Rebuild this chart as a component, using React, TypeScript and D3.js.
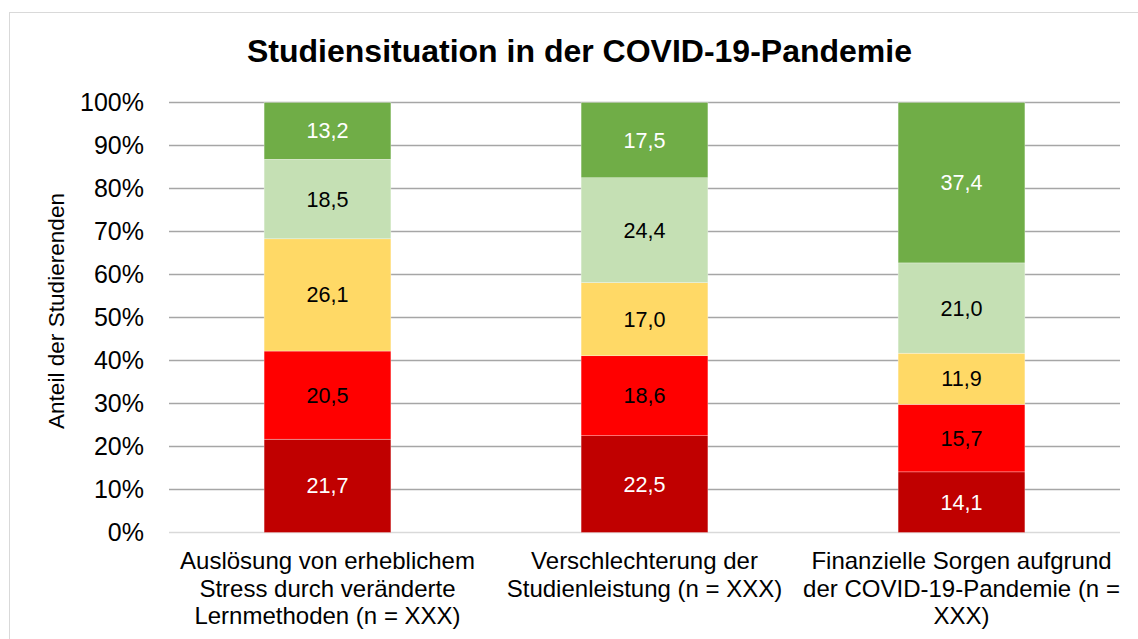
import { scaleBand, scaleLinear, stack } from 'd3'

const categories = ['stress', 'leistung', 'finanzen']

const categoryLines = [
	['Auslösung von erheblichem', 'Stress durch veränderte', 'Lernmethoden (n = XXX)'],
	['Verschlechterung der', 'Studienleistung (n = XXX)'],
	['Finanzielle Sorgen aufgrund', 'der COVID-19-Pandemie (n =', 'XXX)'],
]

const seriesKeys = ['level1', 'level2', 'level3', 'level4', 'level5']
const seriesColors = ['#C00000', '#FF0000', '#FFD966', '#C5E0B4', '#70AD47']
const labelColors = ['#FFFFFF', '#000000', '#000000', '#000000', '#FFFFFF']

const level1 = [21.7, 22.5, 14.1]
const level2 = [20.5, 18.6, 15.7]
const level3 = [26.1, 17.0, 11.9]
const level4 = [18.5, 24.4, 21.0]
const level5 = [13.2, 17.5, 37.4]

const yTicks = [0, 10, 20, 30, 40, 50, 60, 70, 80, 90, 100]

const title = 'Studiensituation in der COVID-19-Pandemie'
const yAxisTitle = 'Anteil der Studierenden'

const font = '"Liberation Sans", Arial, sans-serif'

export default function App() {
	const width = 1138
	const height = 639
	const plot = { left: 169, right: 1120, top: 102.5, bottom: 532.5 }

	const rows = categories.map((category, i) => ({
		category,
		level1: level1[i],
		level2: level2[i],
		level3: level3[i],
		level4: level4[i],
		level5: level5[i],
	}))

	const series = stack<(typeof rows)[number]>().keys(seriesKeys)(rows)

	const x = scaleBand<string>()
		.domain(categories)
		.range([plot.left, plot.right])
		.paddingInner(0.6)
		.paddingOuter(0.3)

	const y = scaleLinear().domain([0, 100]).range([plot.bottom, plot.top])

	return (
		<svg
			width={width}
			height={height}
			viewBox={`0 0 ${width} ${height}`}
			style={{ position: 'absolute', left: 0, top: 0, display: 'block', fontFamily: font }}
		>
			<rect x={0} y={0} width={width} height={height} fill="#fff" />
			<rect x={9.5} y={12.5} width={1150} height={650} fill="#fff" stroke="#D9D9D9" strokeWidth={1} />

			<text x={579.5} y={62} textAnchor="middle" fontSize={32} fontWeight="bold" fill="#000">
				{title}
			</text>

			{yTicks.map((tick) => (
				<g key={tick}>
					<line
						x1={plot.left}
						x2={plot.right}
						y1={y(tick)}
						y2={y(tick)}
						stroke={tick === 0 ? '#D9D9D9' : '#A6A6A6'}
						strokeWidth={1.5}
					/>
					<text x={144} y={y(tick)} dy="0.35em" textAnchor="end" fontSize={25} fill="#000">
						{tick}%
					</text>
				</g>
			))}

			<text
				transform={`translate(64, 311) rotate(-90)`}
				textAnchor="middle"
				fontSize={22.6}
				fill="#000"
			>
				{yAxisTitle}
			</text>

			{series.map((s, si) => (
				<g key={s.key}>
					{s.map((d, i) => {
						const cat = categories[i]
						const x0 = x(cat) ?? 0
						const top = y(Math.min(d[1], 100))
						const bottom = y(d[0])
						return (
							<g key={cat}>
								<rect
									x={x0}
									y={top}
									width={x.bandwidth()}
									height={Math.max(0, bottom - top)}
									fill={seriesColors[si]}
									stroke="#FFFFFF"
									strokeWidth={0.5}
									strokeOpacity={0.6}
								/>
								<text
									x={x0 + x.bandwidth() / 2}
									y={(top + bottom) / 2}
									dy="0.35em"
									textAnchor="middle"
									fontSize={21.6}
									fill={labelColors[si]}
								>
									{(d[1] - d[0]).toFixed(1).replace('.', ',')}
								</text>
							</g>
						)
					})}
				</g>
			))}

			{categoryLines.map((lines, i) => {
				const cx = (x(categories[i]) ?? 0) + x.bandwidth() / 2
				return (
					<text key={categories[i]} textAnchor="middle" fontSize={24} fill="#000">
						{lines.map((line, li) => (
							<tspan key={li} x={cx} y={569 + li * 27.5}>
								{line}
							</tspan>
						))}
					</text>
				)
			})}
		</svg>
	)
}
